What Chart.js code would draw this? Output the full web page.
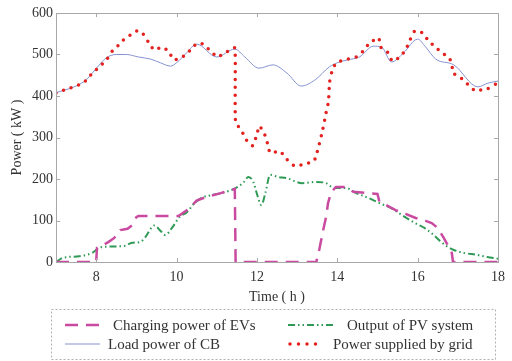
<!DOCTYPE html>
<html>
<head>
<meta charset="utf-8">
<script src="https://cdn.jsdelivr.net/npm/chart.js@4.4.0/dist/chart.umd.min.js"></script>
<style>
  html, body { margin: 0; padding: 0; background: #fff; }
  #wrap { width: 512px; height: 361px; }
</style>
</head>
<body>
<div id="wrap"><canvas id="powerChart" width="512" height="361"></canvas></div>
<script>
// datos (hora, kW)
const gridHours = [7.0, 7.27, 7.51, 7.73, 7.9, 8.1, 8.27, 8.4, 8.56, 8.73, 8.85, 9.02, 9.15, 9.3, 9.44, 9.64, 9.8, 9.93,
  10.12, 10.3, 10.42, 10.55, 10.7, 10.84, 11.04, 11.19, 11.29, 11.45, 11.46, 11.47, 11.62, 11.74, 11.89, 11.99, 12.06,
  12.18, 12.26, 12.33, 12.57, 12.74, 12.94, 13.18, 13.42, 13.5, 13.62, 13.72, 13.78, 13.81, 13.89, 14.01, 14.27, 14.47,
  14.64, 14.81, 15.03, 15.08, 15.25, 15.37, 15.56, 15.71, 15.81, 15.93, 16.12, 16.27, 16.44, 16.61, 16.76, 16.85, 16.88,
  17.05, 17.24, 17.44, 17.66, 17.73, 17.95, 18.0];
const gridPower = [407, 417, 424, 436, 455, 472, 489, 508, 523, 540, 547, 557, 552, 530, 511, 518, 508, 487,
  492, 506, 520, 528, 523, 508, 494, 506, 508, 516, 425, 337, 316, 294, 280, 304, 328,
  311, 287, 263, 267, 248, 231, 236, 243, 265, 311, 359, 386, 434, 467, 482, 489, 494,
  508, 528, 540, 518, 506, 484, 494, 513, 535, 557, 552, 533, 518, 504, 494, 480, 455,
  446, 429, 412, 417, 417, 429, 430];

const loadHours = [7.0, 7.5, 7.75, 8.05, 8.25, 8.5, 8.75, 9.05, 9.35, 9.6, 9.85, 10.0, 10.25, 10.5, 11.0, 11.45, 11.7,
  12.05, 12.4, 12.75, 13.1, 13.45, 13.8, 14.0, 14.25, 14.55, 14.9, 15.1, 15.35, 15.65, 16.0, 16.2, 16.45, 16.9, 17.5,
  17.75, 18.0];
const loadPower = [408, 424, 439, 472, 492, 500, 500, 494, 489, 480, 472, 480, 504, 525, 494, 513, 494,
  467, 475, 455, 424, 439, 470, 480, 487, 494, 520, 518, 482, 504, 537, 518, 489, 475, 422,
  431, 436];

const evHours = [7.0, 8.0, 8.02, 8.1, 8.3, 8.45, 8.6, 8.78, 8.9, 9.0, 9.05, 10.05, 10.3, 10.5, 10.75, 11.1, 11.45, 11.47,
  13.48, 13.5, 13.55, 13.65, 13.72, 13.77, 13.85, 13.97, 14.2, 14.4, 14.75, 15.0, 15.05, 15.3, 15.45, 15.7, 15.95,
  16.2, 16.35, 16.5, 16.65, 16.77, 16.85, 16.88, 18.0];
const evPower = [0, 0, 34, 37, 48, 58, 77, 80, 89, 108, 111, 111, 128, 148, 157, 166, 176, 0,
  0, 10, 29, 77, 108, 142, 169, 181, 181, 169, 166, 164, 145, 133, 125, 116, 106,
  99, 94, 82, 58, 37, 22, 0, 0];

const pvHours = [7.0, 7.17, 7.58, 7.9, 8.07, 8.27, 8.73, 8.87, 9.09, 9.21, 9.45, 9.6, 9.72, 9.9, 10.07, 10.26, 10.43,
  10.63, 10.87, 11.11, 11.43, 11.65, 11.79, 11.91, 12.01, 12.11, 12.21, 12.33, 12.52, 12.74, 13.13, 13.47, 13.72,
  13.91, 14.23, 14.47, 14.71, 15.05, 15.37, 15.69, 15.93, 16.17, 16.34, 16.59, 16.76, 16.9, 17.15, 17.49, 17.73, 18.0];
const pvPower = [0, 10, 14, 22, 34, 37, 39, 46, 48, 58, 88, 75, 65, 84, 108, 120, 140,
  155, 161, 166, 176, 190, 205, 193, 161, 137, 166, 210, 205, 202, 190, 193, 190,
  179, 178, 166, 157, 142, 128, 108, 94, 82, 70, 48, 36, 29, 22, 17, 12, 8];

const xTicks = [8, 10, 12, 14, 16, 18];
const yTicks = [0, 100, 200, 300, 400, 500, 600];

const colEV = '#c94aa0';
const colPV = '#2f9a55';
const colLoad = '#8592d2';
const colGrid = '#e3211f';
const fontFam = '"Liberation Serif", "Times New Roman", serif';

function pts(hours, vals) {
  return hours.map((h, i) => ({x: h, y: vals[i]}));
}

// marco y marcas hacia dentro (estilo matlab)
const frameTicks = {
  id: 'frameTicks',
  afterDatasetsDraw(chart) {
    const {ctx, chartArea: a, scales} = chart;
    ctx.save();
    ctx.strokeStyle = '#a8a8a8';
    ctx.lineWidth = 1;
    ctx.strokeRect(Math.round(a.left) + 0.5, Math.round(a.top) + 0.5, Math.round(a.right - a.left), Math.round(a.bottom - a.top));
    ctx.beginPath();
    xTicks.forEach(t => {
      const x = Math.round(scales.x.getPixelForValue(t)) + 0.5;
      ctx.moveTo(x, a.bottom); ctx.lineTo(x, a.bottom - 4);
      ctx.moveTo(x, a.top); ctx.lineTo(x, a.top + 4);
    });
    yTicks.forEach(t => {
      const y = Math.round(scales.y.getPixelForValue(t)) + 0.5;
      ctx.moveTo(a.left, y); ctx.lineTo(a.left + 4, y);
      ctx.moveTo(a.right, y); ctx.lineTo(a.right - 4, y);
    });
    ctx.stroke();
    ctx.restore();
  }
};

// leyenda en caja con borde punteado
const boxLegend = {
  id: 'boxLegend',
  afterDraw(chart) {
    const ctx = chart.ctx;
    ctx.save();
    ctx.strokeStyle = '#b0b0b0';
    ctx.lineWidth = 1;
    ctx.setLineDash([2, 2]);
    ctx.strokeRect(51.5, 309.5, 444, 50);

    const items = [
      {label: 'Charging power of EVs', x0: 65, x1: 101, tx: 113, y: 325, color: colEV, width: 2.5, dash: [13, 8], cap: 'butt'},
      {label: 'Output of PV system', x0: 288, x1: 336, tx: 347, y: 325, color: colPV, width: 2, dash: [7, 3, 1.5, 3, 1.5, 3], cap: 'butt'},
      {label: 'Load power of CB', x0: 65, x1: 100, tx: 108, y: 344, color: colLoad, width: 1, dash: [], cap: 'butt'},
      {label: 'Power supplied by grid', x0: 290, x1: 320, tx: 333, y: 344, color: colGrid, width: 3.5, dash: [0, 8.5], cap: 'round'}
    ];
    ctx.font = '15px ' + fontFam;
    ctx.textBaseline = 'middle';
    ctx.fillStyle = '#333';
    items.forEach(it => {
      ctx.beginPath();
      ctx.strokeStyle = it.color;
      ctx.lineWidth = it.width;
      ctx.lineCap = it.cap;
      ctx.setLineDash(it.dash);
      ctx.moveTo(it.x0, it.y);
      ctx.lineTo(it.x1, it.y);
      ctx.stroke();
      ctx.fillText(it.label, it.tx, it.y + 1);
    });
    ctx.restore();
  }
};

document.addEventListener('DOMContentLoaded', () => {
  new Chart(document.getElementById('powerChart'), {
    type: 'line',
    data: {
      datasets: [
        {
          label: 'Power supplied by grid',
          data: pts(gridHours, gridPower),
          borderColor: colGrid,
          borderWidth: 3.5,
          borderDash: [0, 8],
          borderCapStyle: 'round',
          tension: 0.15,
          pointRadius: 0
        },
        {
          label: 'Charging power of EVs',
          data: pts(evHours, evPower),
          borderColor: colEV,
          borderWidth: 2.5,
          borderDash: [13, 8],
          tension: 0,
          pointRadius: 0
        },
        {
          label: 'Output of PV system',
          data: pts(pvHours, pvPower),
          borderColor: colPV,
          borderWidth: 2,
          borderDash: [7, 3, 1.5, 3, 1.5, 3],
          cubicInterpolationMode: 'monotone',
          pointRadius: 0
        },
        {
          label: 'Load power of CB',
          data: pts(loadHours, loadPower),
          borderColor: colLoad,
          borderWidth: 1,
          cubicInterpolationMode: 'monotone',
          pointRadius: 0
        }
      ]
    },
    options: {
      responsive: false,
      animation: false,
      layout: {autoPadding: false, padding: {left: 0, right: 4, top: 13, bottom: 54}},
      plugins: {legend: {display: false}, tooltip: {enabled: false}},
      scales: {
        x: {
          type: 'linear',
          min: 7,
          max: 18,
          grid: {display: false, drawTicks: false},
          border: {display: false},
          afterBuildTicks: scale => { scale.ticks = xTicks.map(v => ({value: v})); },
          afterFit: scale => { scale.height = 45; },
          ticks: {padding: 7, color: '#333', font: {family: fontFam, size: 14}, maxRotation: 0},
          title: {display: true, text: 'Time ( h )', color: '#333', font: {family: fontFam, size: 14}, padding: {top: 0, bottom: 1}}
        },
        y: {
          min: 0,
          max: 600,
          grid: {display: false, drawTicks: false},
          border: {display: false},
          afterBuildTicks: scale => { scale.ticks = yTicks.map(v => ({value: v})); },
          afterFit: scale => { scale.width = 56; },
          ticks: {padding: 3, color: '#333', font: {family: fontFam, size: 14}},
          title: {display: true, text: 'Power ( kW )', color: '#333', font: {family: fontFam, size: 14}, padding: {top: 9, bottom: 0}}
        }
      }
    },
    plugins: [frameTicks, boxLegend]
  });
});
</script>
</body>
</html>
